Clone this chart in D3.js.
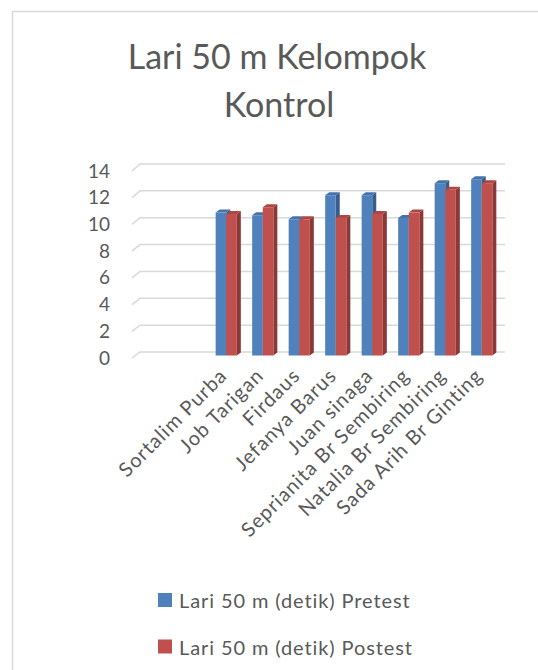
<!DOCTYPE html>
<html>
<head>
<meta charset="utf-8">
<script src="https://cdn.jsdelivr.net/npm/d3@7"></script>
<style>
  html, body { margin: 0; padding: 0; background: #ffffff; }
  svg { display: block; }
  text { font-family: Lato, "Open Sans", sans-serif; fill: #595959; }
</style>
</head>
<body>
<svg id="chart" width="538" height="670"></svg>
<script>
// ---- data ----
const titleLines = ["Lari 50 m Kelompok", "Kontrol"];
const categories = ["", "", "Sortalim Purba", "Job Tarigan", "Firdaus", "Jefanya Barus",
  "Juan sinaga", "Seprianita Br Sembiring", "Natalia Br Sembiring", "Sada Arih Br Ginting"];
const seriesNames = ["Lari 50 m (detik) Pretest", "Lari 50 m (detik) Postest"];
const pretest = [null, null, 10.7, 10.5, 10.2, 12.0, 12.0, 10.3, 12.9, 13.2];
const postest = [null, null, 10.6, 11.1, 10.2, 10.3, 10.6, 10.7, 12.4, 12.9];
const yTicks = [0, 2, 4, 6, 8, 10, 12, 14];

const colors = [
  { front: "#4F81BD", top: "#4473AE", side: "#385D8A" },
  { front: "#C0504D", top: "#AE4643", side: "#8C3836" }
];

const svg = d3.select("#chart");

// frame
svg.append("rect").attr("x", 12.5).attr("y", 11.5).attr("width", 540).attr("height", 680)
  .attr("fill", "#fff").attr("stroke", "#D9D9D9").attr("stroke-width", 1.5);

// title
svg.append("text").attr("x", 277).attr("y", 69).attr("text-anchor", "middle")
  .style("font-size", "34px").text(titleLines[0]);
svg.append("text").attr("x", 279).attr("y", 117).attr("text-anchor", "middle")
  .style("font-size", "34px").text(titleLines[1]);

// scales
const idx = d3.range(categories.length);
const x = d3.scaleBand().domain(idx).range([140, 505]);
const yBack = d3.scaleLinear().domain([0, 14]).range([352, 164]);
const yFront = d3.scaleLinear().domain([0, 14]).range([358, 171]);
const yBar = d3.scaleLinear().domain([0, 14]).range([355.5, 168.5]);
const depthX = 8; // wall depth (front -> back)

// gridlines (back wall + side slant)
const grid = svg.append("g");
yTicks.forEach(t => {
  grid.append("path")
    .attr("d", `M${140 - depthX},${yFront(t)} L140,${yBack(t)} L505,${yBack(t)}`)
    .attr("fill", "none").attr("stroke", "#D9D9D9").attr("stroke-width", 1.5);
});

// y axis labels
const yAxis = d3.axisLeft(yFront).tickValues(yTicks).tickSize(0).tickPadding(0);
const yg = svg.append("g").attr("transform", "translate(110,0)").call(yAxis);
yg.select(".domain").remove();
yg.selectAll("text").style("font-size", "19px").attr("fill", "#595959")
  .style("font-family", "Lato, 'Open Sans', sans-serif");

// bars
const bw = x.bandwidth() * 0.29;
const bdx = 4, bdy = -3;
const barsG = svg.append("g");
idx.forEach(i => {
  const c = x(i) + x.bandwidth() / 2 - 5;
  [pretest, postest].forEach((arr, s) => {
    const v = arr[i];
    if (v == null) return;
    const x0 = c - bw + s * bw, x1 = x0 + bw;
    const yt = yBar(v), yb = yBar(0);
    const col = colors[s];
    barsG.append("path")
      .attr("d", `M${x1},${yt} L${x1 + bdx},${yt + bdy} L${x1 + bdx},${yb + bdy} L${x1},${yb} Z`)
      .attr("fill", col.side);
    barsG.append("path")
      .attr("d", `M${x0},${yt} L${x0 + bdx},${yt + bdy} L${x1 + bdx},${yt + bdy} L${x1},${yt} Z`)
      .attr("fill", col.top);
    barsG.append("rect").attr("x", x0).attr("y", yt).attr("width", bw).attr("height", yb - yt)
      .attr("fill", col.front);
  });
});

// x labels
const xl = svg.append("g");
idx.forEach(i => {
  if (!categories[i]) return;
  const c = x(i) + x.bandwidth() / 2 - 5;
  xl.append("text")
    .attr("transform", `translate(${c + 2},${377}) rotate(-45)`)
    .attr("text-anchor", "end")
    .style("font-size", "20px")
    .style("letter-spacing", "1px")
    .text(categories[i]);
});

// legend
const lg = svg.append("g");
seriesNames.forEach((n, s) => {
  const yy = 593 + s * 46.5;
  lg.append("rect").attr("x", 158).attr("y", yy).attr("width", 14).attr("height", 14)
    .attr("fill", colors[s].front);
  lg.append("text").attr("x", 179).attr("y", yy + 15).style("font-size", "20px")
    .style("letter-spacing", "0.9px").text(n);
});
</script>
</body>
</html>
